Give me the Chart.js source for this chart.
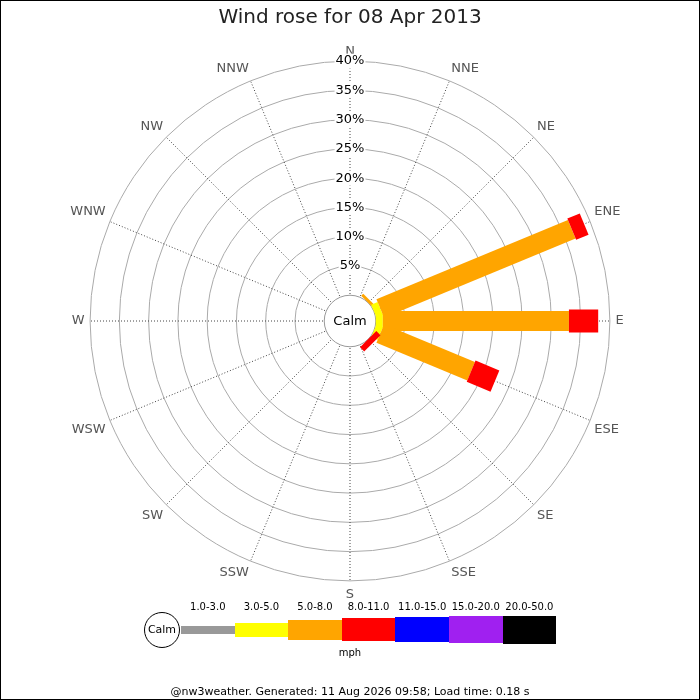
<!DOCTYPE html>
<html>
<head>
<meta charset="utf-8">
<script src="https://cdn.jsdelivr.net/npm/chart.js@4"></script>
<style>
  body { margin: 0; background: #fff; font-family: "DejaVu Sans", sans-serif; }
  #wrap { position: relative; width: 700px; height: 700px; }
  #chartBox { position: absolute; left: 0; top: 0; width: 700px; height: 700px; }
  #frame { position: absolute; left: 0; top: 0; width: 700px; height: 700px; box-sizing: border-box; border: 1px solid #000; pointer-events: none; }
  #title { position: absolute; left: 0; width: 700px; top: 4px; text-align: center; font-size: 20px; color: #222; }
  .lg { position: absolute; }
  .lgLabel { position: absolute; font-size: 10px; color: #000; text-align: center; width: 60px; }
  #calmKey { position: absolute; left: 144px; top: 612px; width: 34px; height: 34px; border: 1px solid #000; border-radius: 50%; background: #fff; font-size: 11px; line-height: 34px; text-align: center; }
  #unit { position: absolute; left: 330px; top: 647px; width: 40px; text-align: center; font-size: 10px; }
  #footer { position: absolute; left: 0; width: 700px; top: 685px; text-align: center; font-size: 11px; color: #000; }
</style>
</head>
<body>
<div id="wrap">
  <div id="chartBox"><canvas id="rose"></canvas></div>
  <div id="title">Wind rose for 08 Apr 2013</div>
  <div id="legend"></div>
  <div id="calmKey">Calm</div>
  <div id="unit">mph</div>
  <div id="footer">@nw3weather. Generated: 11 Aug 2026 09:58; Load time: 0.18 s</div>
  <div id="frame"></div>
</div>
<script>
// Directions (compass points, clockwise from north)
const directions = ["N", "NNE", "NE", "ENE", "E", "ESE", "SE", "SSE",
  "S", "SSW", "SW", "WSW", "W", "WNW", "NW", "NNW"];

// Speed ranges (mph)
const speedBins = ["1.0-3.0", "3.0-5.0", "5.0-8.0", "8.0-11.0", "11.0-15.0", "15.0-20.0", "20.0-50.0"];

// Percentage of the day per direction, one array per speed range
//                  N  NNE  NE   ENE   E     ESE   SE   SSE S SSW SW WSW W WNW NW NNW
const speed1to3   = [0, 0,   0,   0,    0,    0,    0,   0, 0, 0, 0, 0, 0, 0, 0, 0];
const speed3to5   = [0, 0,   0,   1.2,  1.2,  1.2,  0,   0, 0, 0, 0, 0, 0, 0, 0, 0];
const speed5to8   = [0, 0,   0.5, 35.4, 31.8, 16.8, 0,   0, 0, 0, 0, 0, 0, 0, 0, 0];
const speed8to11  = [0, 0,   0,   2.3,  5.0,  4.4,  1.0, 0, 0, 0, 0, 0, 0, 0, 0, 0];
const speed11to15 = [0, 0,   0,   0,    0,    0,    0,   0, 0, 0, 0, 0, 0, 0, 0, 0];
const speed15to20 = [0, 0,   0,   0,    0,    0,    0,   0, 0, 0, 0, 0, 0, 0, 0, 0];
const speed20to50 = [0, 0,   0,   0,    0,    0,    0,   0, 0, 0, 0, 0, 0, 0, 0, 0];
const speedSeries = [speed1to3, speed3to5, speed5to8, speed8to11, speed11to15, speed15to20, speed20to50];

// Radial tick labels (percent)
const radialTicks = [5, 10, 15, 20, 25, 30, 35, 40];

// Looks
const binColors = ["#999999", "#ffff00", "#ffa500", "#ff0000", "#0000ff", "#a020f0", "#000000"];
const binWidths = [8, 14, 20, 23, 25, 27, 28];
const calmOffset = -4.4; // radial room kept for the calm circle

// Bottom key (html)
const legendBox = document.getElementById("legend");
speedBins.forEach((name, i) => {
  const left = 181 + i * 53.6;
  const bar = document.createElement("div");
  bar.className = "lg";
  bar.style.cssText = `left:${left}px;top:${629.5 - binWidths[i] / 2}px;width:53.6px;height:${binWidths[i]}px;background:${binColors[i]}`;
  legendBox.appendChild(bar);
  const lab = document.createElement("div");
  lab.className = "lgLabel";
  lab.style.cssText = `left:${left + 26.8 - 30}px;top:601px`;
  lab.textContent = name;
  legendBox.appendChild(lab);
});

// One line dataset per leg segment, stacked outward from the calm circle
const buildDatasets = () => {
  const sets = [];
  let order = 0;
  directions.forEach((dir, d) => {
    const angle = (d * 22.5 * Math.PI) / 180;
    let cum = 0;
    speedSeries.forEach((series, b) => {
      const v = series[d];
      if (!v) return;
      const r0 = cum - calmOffset;
      const r1 = cum + v - calmOffset;
      cum += v;
      sets.push({
        label: `${dir} ${speedBins[b]}`,
        data: [
          { x: r0 * Math.sin(angle), y: r0 * Math.cos(angle) },
          { x: r1 * Math.sin(angle), y: r1 * Math.cos(angle) },
        ],
        showLine: true,
        borderColor: binColors[b],
        backgroundColor: binColors[b],
        borderWidth: binWidths[b],
        borderCapStyle: "butt",
        pointRadius: 0,
        pointHoverRadius: 0,
        clip: false,
        order: order--,
      });
    });
  });
  return sets;
};

// keep the hidden x/y axes on the same centre and unit as the radial scale
const polarSync = {
  id: "polarSync",
  afterLayout(chart) {
    const r = chart.scales.r;
    const x = chart.scales.x;
    const y = chart.scales.y;
    const unit = r.drawingArea / (r.max - r.min);
    x.min = (x.left - r.xCenter) / unit;
    x.max = (x.right - r.xCenter) / unit;
    x.configure();
    y.min = (r.yCenter - y.bottom) / unit;
    y.max = (r.yCenter - y.top) / unit;
    y.configure();
  },
};

// white calm circle in the middle
const calmCircle = {
  id: "calmCircle",
  beforeDatasetsDraw(chart) {
    const r = chart.scales.r;
    const ctx = chart.ctx;
    const rad = r.getDistanceFromCenterForValue(0);
    ctx.save();
    ctx.beginPath();
    ctx.arc(r.xCenter, r.yCenter, rad, 0, Math.PI * 2);
    ctx.fillStyle = "#fff";
    ctx.fill();
    ctx.lineWidth = 1;
    ctx.strokeStyle = "#999";
    ctx.stroke();
    ctx.fillStyle = "#000";
    ctx.font = '13px "DejaVu Sans"';
    ctx.textAlign = "center";
    ctx.textBaseline = "middle";
    ctx.fillText("Calm", r.xCenter, r.yCenter + 1);
    ctx.restore();
  },
};

new Chart(document.getElementById("rose"), {
  type: "scatter",
  data: { labels: directions, datasets: buildDatasets() },
  options: {
    responsive: true,
    maintainAspectRatio: false,
    animation: false,
    layout: { padding: { left: 66, right: 72, top: 43, bottom: 95 } },
    plugins: { legend: { display: false }, tooltip: { enabled: false } },
    scales: {
      x: { type: "linear", display: false, min: -1, max: 1 },
      y: { type: "linear", display: false, min: -1, max: 1 },
      r: {
        type: "radialLinear",
        min: calmOffset,
        max: 40,
        afterBuildTicks: (scale) => {
          scale.ticks = radialTicks.map((v) => ({ value: v }));
        },
        grid: { circular: true, color: "#aaa", lineWidth: 1 },
        angleLines: { color: "#444", lineWidth: 1, borderDash: [1, 2] },
        pointLabels: {
          color: "#555",
          padding: (ctx) => (ctx.index === 0 ? -6 : ctx.index % 4 === 0 ? -2 : -3),
          font: { family: "DejaVu Sans", size: 13 },
        },
        ticks: {
          color: "#000",
          font: { family: "DejaVu Sans", size: 13 },
          showLabelBackdrop: true,
          backdropColor: "#fff",
          backdropPadding: 1,
          callback: (v) => v + "%",
        },
      },
    },
  },
  plugins: [polarSync, calmCircle],
});
</script>
</body>
</html>
